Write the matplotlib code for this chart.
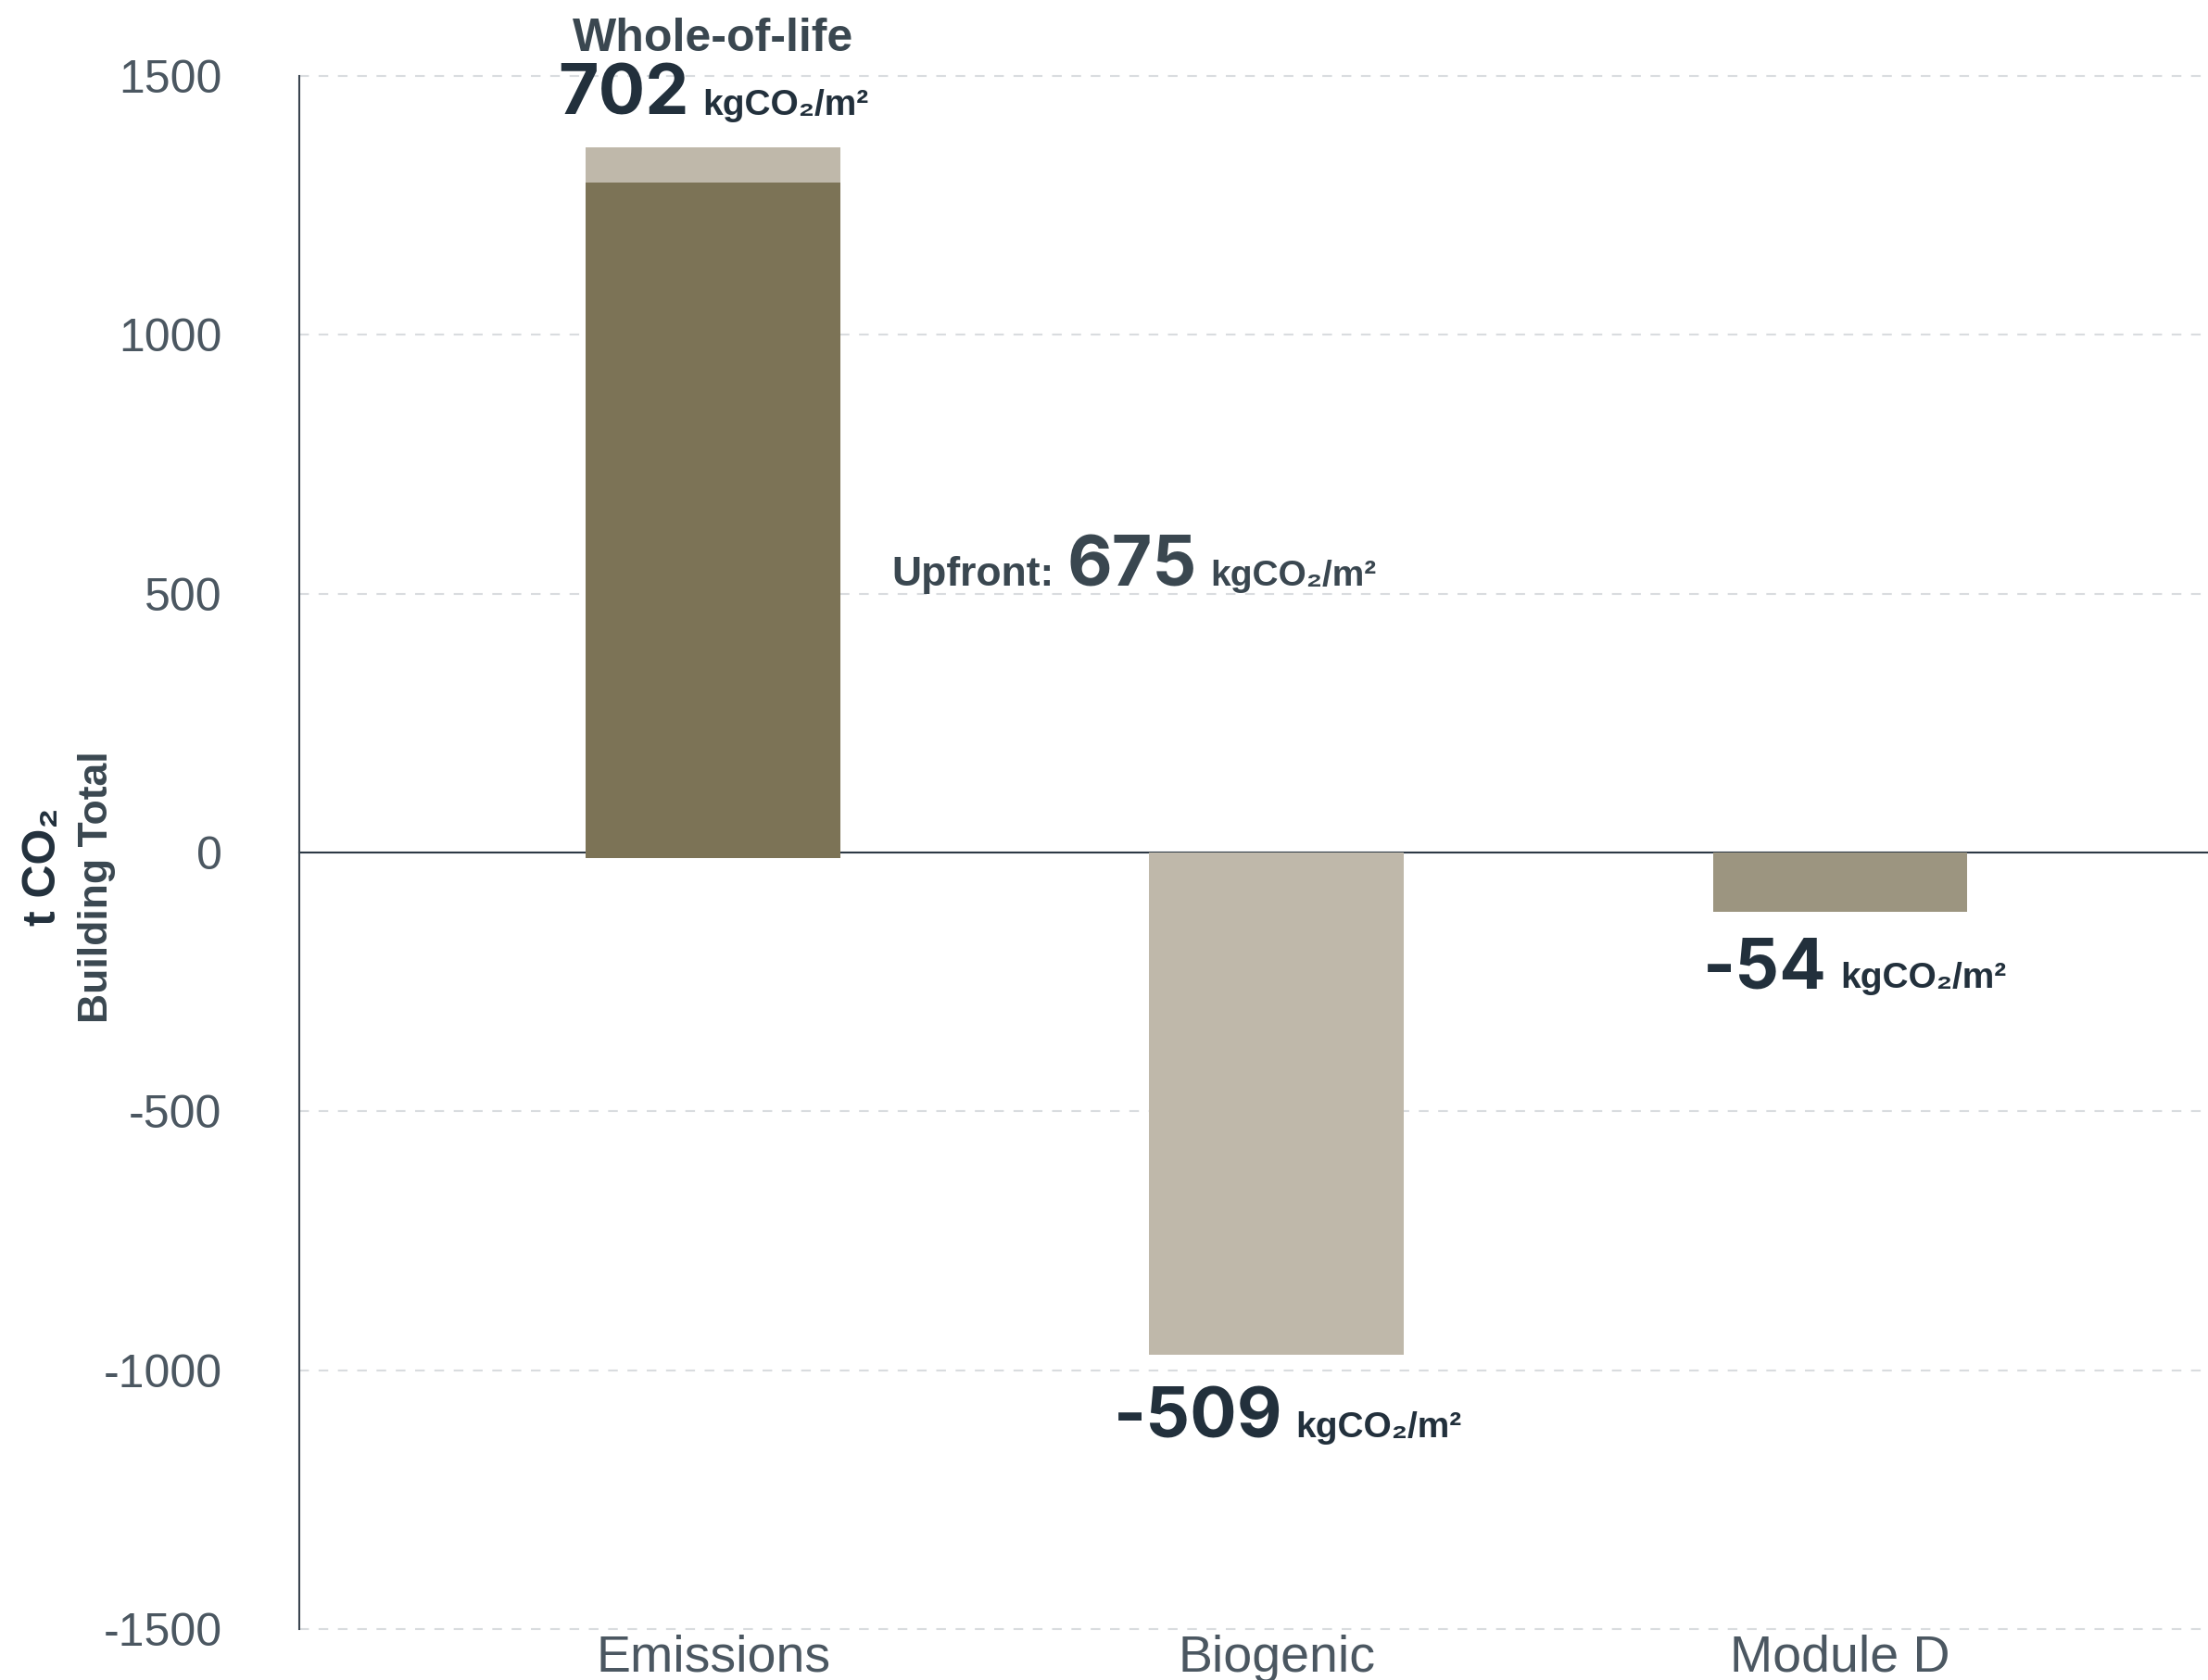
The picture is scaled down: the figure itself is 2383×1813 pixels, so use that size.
import matplotlib
matplotlib.use("Agg")
import matplotlib.pyplot as plt
import matplotlib.transforms as mtransforms

# --- data (t CO2, building total) ---
categories = ["Emissions", "Biogenic", "Module D"]
upfront = [1294, 0, 0]          # dark olive, positive part
upfront_below = [-10, 0, 0]     # dark olive, small part below zero
use_end_of_life = [68, 0, 0]    # light segment stacked on upfront
biogenic = [0, -970, 0]
module_d = [0, 0, -114]

# labels in kgCO2/m2
whole_of_life_m2 = 702
upfront_m2 = 675
biogenic_m2 = -509
module_d_m2 = -54

yticks = [-1500, -1000, -500, 0, 500, 1000, 1500]
ytick_labels = ["-1500", "-1000", "-500", "0", "500", "1000", "1500"]

FAMILY = ["Liberation Sans", "DejaVu Sans"]
NUM_FAMILY = ["Inter", "Liberation Sans", "DejaVu Sans"]
DARK = "#22303c"
MID = "#3a4750"
TICK = "#4b5761"
OLIVE = "#7c7356"
LIGHT = "#bfb8aa"
MODD = "#9c9580"

plt.rcParams["axes.unicode_minus"] = False
plt.rcParams["font.family"] = FAMILY

fig = plt.figure(figsize=(23.83, 18.13), dpi=100)
ax = fig.add_axes([0.1355, 0.0303, 0.8645, 0.9245])

x = list(range(len(categories)))
w = 0.452

# bars
ax.bar(x, upfront, width=w, color=OLIVE, zorder=3)
ax.bar(x, upfront_below, width=w, color=OLIVE, zorder=3)
ax.bar(x, use_end_of_life, bottom=upfront, width=w, color=LIGHT, zorder=3)
ax.bar(x, biogenic, width=w, color=LIGHT, zorder=3)
ax.bar(x, module_d, width=w, color=MODD, zorder=3)

ax.set_xlim(-0.735, 2.653)
ax.set_ylim(-1500, 1500)

# grid + zero line
for v in yticks:
    if v == 0:
        ax.axhline(0, color="#2d3945", lw=1.5, zorder=2, clip_on=False)
    else:
        ax.axhline(v, color="#d9dcdf", lw=1.5, linestyle=(0, (5, 5)),
                   zorder=1, clip_on=False)

for s in ["top", "right", "bottom"]:
    ax.spines[s].set_visible(False)
ax.spines["left"].set_color("#3a4550")
ax.spines["left"].set_linewidth(1.5)

ax.set_yticks(yticks)
ax.set_yticklabels(ytick_labels)
ax.tick_params(axis="y", length=0, pad=60, labelsize=36, labelcolor=TICK)
ax.set_xticks(x)
ax.set_xticklabels(categories)
ax.tick_params(axis="x", length=0, pad=4, labelsize=40, labelcolor=TICK)

# y label, two lines
fig.text(47 / 2383, 1 - 935 / 1813, "t CO\u2082", rotation=90, ha="center",
         va="center", fontsize=36, fontweight="bold", color=DARK)
fig.text(105 / 2383, 1 - 957 / 1813, "Building Total", rotation=90,
         ha="center", va="center", fontsize=32, fontweight="bold", color=MID)

renderer = fig.canvas.get_renderer()


def rich_label(xd, yd, parts, align="center", gap=14):
    texts, widths = [], []
    for s, size, color, fam in parts:
        t = ax.text(xd, yd, s, fontsize=size, color=color, fontweight="bold",
                    family=fam, ha="left", va="baseline", clip_on=False,
                    zorder=5)
        texts.append(t)
        widths.append(t.get_window_extent(renderer).width)
    total = sum(widths) + gap * (len(parts) - 1)
    off = -total / 2 if align == "center" else 0
    for t, wd in zip(texts, widths):
        t.set_transform(ax.transData + mtransforms.ScaledTranslation(
            off / fig.dpi, 0, fig.dpi_scale_trans))
        off += wd + gap


UNIT = "kgCO\u2082/m\u00b2"

ax.text(0, 1548, "Whole-of-life", ha="center", va="baseline", fontsize=36,
        fontweight="bold", color=MID, clip_on=False)
rich_label(0, 1425, [(str(whole_of_life_m2), 54, DARK, NUM_FAMILY),
                     (UNIT, 28, DARK, FAMILY)])
rich_label(0.317, 515, [("Upfront:", 32, MID, FAMILY),
                        (str(upfront_m2), 54, MID, NUM_FAMILY),
                        (UNIT, 28, MID, FAMILY)], align="left")
rich_label(1.02, -1130, [(str(biogenic_m2), 54, DARK, NUM_FAMILY),
                         (UNIT, 28, DARK, FAMILY)])
rich_label(2.026, -262, [(str(module_d_m2), 54, DARK, NUM_FAMILY),
                         (UNIT, 28, DARK, FAMILY)])

fig.savefig("out.png", dpi=100, facecolor="white")
